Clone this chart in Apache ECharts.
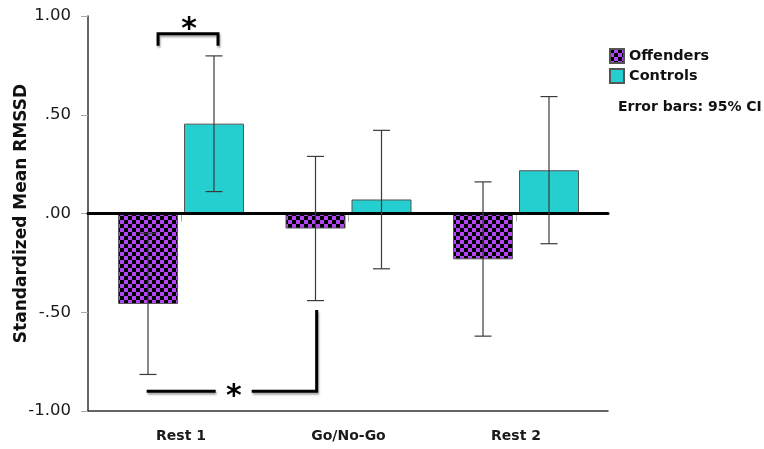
<!DOCTYPE html>
<html><head><meta charset="utf-8">
<script src="https://cdn.jsdelivr.net/npm/echarts@6/dist/echarts.min.js"></script>
<style>html,body{margin:0;padding:0;background:#fff}#c{width:764px;height:449px}</style>
</head><body><div id="c"></div>
<script>
// ---------- data ----------
const categories = ['Rest 1', 'Go/No-Go', 'Rest 2'];
const seriesNames = ['Offenders', 'Controls'];
const offenderMeans = [-0.458, -0.076, -0.232];
const offenderCILow = [-0.815, -0.441, -0.621];
const offenderCIHigh = [-0.100, 0.289, 0.160];
const controlMeans = [0.455, 0.071, 0.219];
const controlCILow = [0.111, -0.280, -0.153];
const controlCIHigh = [0.798, 0.421, 0.592];
const yTickValues = [-1, -0.5, 0, 0.5, 1];
const yTickLabels = ['-1.00', '-.50', '.00', '.50', '1.00'];
const yAxisTitle = 'Standardized Mean RMSSD';
const errorNote = 'Error bars: 95% CI';
const starLabel = '*';
// significance annotations: [categoryIndex, offsetInBands, value]
const sigTopBracket = [[0, -0.137, 0.85], [0, -0.137, 0.91], [0, 0.221, 0.91], [0, 0.221, 0.85]];
const sigTopStar = [0, 0.048, 0.958];
const sigBottomLeft = [[0, -0.205, -0.90], [0, 0.207, -0.90]];
const sigBottomStar = [0, 0.316, -0.90];
const sigBottomRight = [[0, 0.422, -0.90], [1, -0.19, -0.90], [1, -0.19, -0.488]];

// ---------- style ----------
const FONT = 'DejaVu Sans';
const BAR_W = 60, BAR_GAP = 6;
const PURPLE = '#b246f4', TEAL = '#26cfcf';

function checker() {
  const c = document.createElement('canvas');
  c.width = 8; c.height = 8;
  const g = c.getContext('2d');
  g.fillStyle = PURPLE; g.fillRect(0, 0, 8, 8);
  g.fillStyle = '#000'; g.fillRect(0, 0, 4, 4); g.fillRect(4, 4, 4, 4);
  return c;
}
const pattern = { image: checker(), repeat: 'repeat' };

function errorSeries(name, lows, highs, sign) {
  return {
    type: 'custom', name: name + ' CI', xAxisIndex: 2, yAxisIndex: 1, z: 6,
    silent: true,
    data: categories.map((c, i) => [i, lows[i], highs[i]]),
    renderItem: function (params, api) {
      const lo = api.coord([api.value(0), api.value(1)]);
      const hi = api.coord([api.value(0), api.value(2)]);
      const x = lo[0] + sign * (BAR_W + BAR_GAP) / 2;
      const cap = 8.5;
      const st = { stroke: '#3a3a3a', lineWidth: 1.2 };
      return { type: 'group', children: [
        { type: 'line', shape: { x1: x, y1: lo[1], x2: x, y2: hi[1] }, style: st },
        { type: 'line', shape: { x1: x - cap, y1: lo[1], x2: x + cap, y2: lo[1] }, style: st },
        { type: 'line', shape: { x1: x - cap, y1: hi[1], x2: x + cap, y2: hi[1] }, style: st }
      ]};
    }
  };
}

function annotSeries() {
  return {
    type: 'custom', xAxisIndex: 2, yAxisIndex: 1, z: 8, silent: true,
    data: [[0, 0]],
    renderItem: function (params, api) {
      const band = api.size([1, 0])[0];
      const pt = p => { const c = api.coord([p[0], p[2]]); return [c[0] + p[1] * band, c[1]]; };
      const ls = { stroke: '#000', lineWidth: 3, fill: null, lineJoin: 'miter',
        shadowColor: 'rgba(0,0,0,0.35)', shadowBlur: 2, shadowOffsetX: 1, shadowOffsetY: 2 };
      const star = p => { const c = pt(p); return { type: 'text', x: c[0], y: c[1] + 6,
        style: { text: starLabel, font: 'bold 30px ' + FONT, fill: '#000', align: 'center', verticalAlign: 'middle' } }; };
      return { type: 'group', children: [
        { type: 'polyline', shape: { points: sigTopBracket.map(pt) }, style: ls },
        star(sigTopStar),
        { type: 'polyline', shape: { points: sigBottomLeft.map(pt) }, style: ls },
        star(sigBottomStar),
        { type: 'polyline', shape: { points: sigBottomRight.map(pt) }, style: ls }
      ]};
    }
  };
}

const chart = echarts.init(document.getElementById('c'), null, { renderer: 'canvas' });
chart.setOption({
  animation: false,
  backgroundColor: '#fff',
  textStyle: { fontFamily: FONT },
  grid: [
    { left: 88, right: 156, top: 16, bottom: 38, containLabel: false, outerBoundsMode: 'none' },
    { left: 97.25, right: 164.25, top: 16, bottom: 38, containLabel: false, outerBoundsMode: 'none' }
  ],
  legend: {
    data: seriesNames, orient: 'vertical', left: 604, top: 43,
    itemWidth: 14, itemHeight: 14, itemGap: 4, icon: 'rect',
    textStyle: { fontFamily: FONT, fontWeight: 'bold', fontSize: 14.5, color: '#111' }
  },
  graphic: [{
    type: 'text', left: 618, top: 100,
    style: { text: errorNote, font: 'bold 14px ' + FONT, fill: '#111' }
  }],
  xAxis: [
    { gridIndex: 0, type: 'value', min: 0, max: 1, position: 'bottom',
      axisLine: { onZero: false, lineStyle: { color: '#333', width: 1.5 } },
      axisTick: { show: false }, axisLabel: { show: false }, splitLine: { show: false } },
    { gridIndex: 0, type: 'value', min: 0, max: 1, position: 'top', z: 5,
      axisLine: { onZero: true, lineStyle: { color: '#000', width: 3 } },
      axisTick: { show: false }, axisLabel: { show: false }, splitLine: { show: false } },
    { gridIndex: 1, type: 'category', data: categories,
      axisLine: { show: false },
      axisTick: { show: true, alignWithLabel: true, length: 8, lineStyle: { color: '#aaa' } },
      axisLabel: { margin: 18, fontFamily: FONT, fontWeight: 'bold', fontSize: 14, color: '#1a1a1a' } }
  ],
  yAxis: [
    { gridIndex: 0, type: 'value', min: -1, max: 1, interval: 0.5,
      name: yAxisTitle, nameLocation: 'middle', nameGap: 58, nameRotate: 90, nameMoveOverlap: false,
      nameTextStyle: { fontFamily: FONT, fontWeight: 'bold', fontSize: 17, color: '#111' },
      axisLine: { show: true, lineStyle: { color: '#333', width: 1.5 } },
      axisTick: { show: true, length: 7, lineStyle: { color: '#aaa' } },
      splitLine: { show: false },
      axisLabel: { margin: 17, fontFamily: FONT, fontSize: 16.5, color: '#1a1a1a',
        formatter: v => yTickLabels[yTickValues.indexOf(v)] } },
    { gridIndex: 1, type: 'value', min: -1, max: 1, show: false }
  ],
  series: [
    { type: 'bar', name: seriesNames[0], xAxisIndex: 2, yAxisIndex: 1, data: offenderMeans,
      barWidth: BAR_W, barGap: (BAR_GAP / BAR_W * 100) + '%',
      itemStyle: { color: pattern, borderColor: '#555', borderWidth: 1 } },
    { type: 'bar', name: seriesNames[1], xAxisIndex: 2, yAxisIndex: 1, data: controlMeans,
      barWidth: BAR_W, barGap: (BAR_GAP / BAR_W * 100) + '%',
      itemStyle: { color: TEAL, borderColor: '#555', borderWidth: 1 } },
    errorSeries('Offenders', offenderCILow, offenderCIHigh, -1),
    errorSeries('Controls', controlCILow, controlCIHigh, 1),
    annotSeries()
  ]
});
</script></body></html>
